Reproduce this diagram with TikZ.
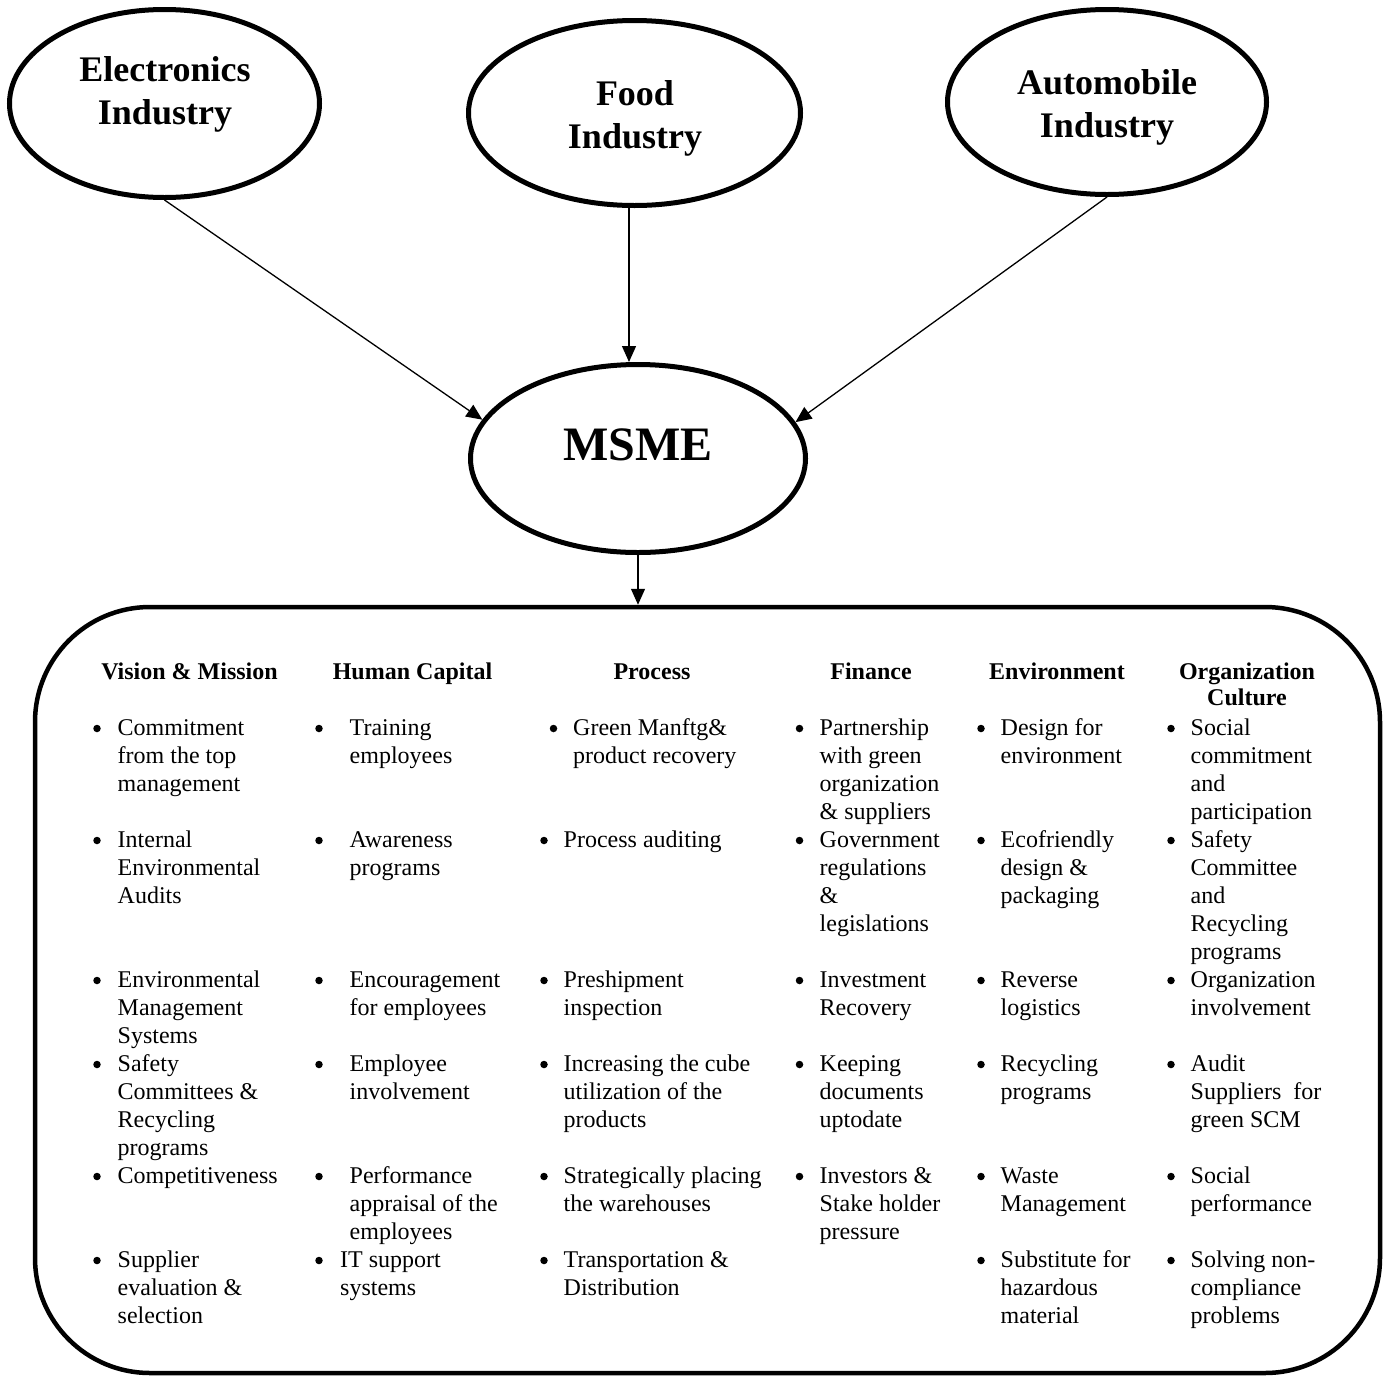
\documentclass[tikz,border=0pt]{standalone}
\usepackage{fontspec}
\setmainfont{Liberation Serif}
\usetikzlibrary{shapes.geometric,arrows.meta}
\tikzset{
  ell/.style={draw, ellipse, line width=5pt, inner sep=0pt},
  lbl/.style={font=\fontsize{36}{43}\selectfont\bfseries, align=center, inner sep=0pt, anchor=north},
  hdr/.style={font=\fontsize{24}{26}\selectfont\bfseries, align=center, inner sep=0pt, anchor=north},
  itm/.style={font=\fontsize{24}{28}\selectfont, align=left, inner sep=0pt, anchor=north west},
  bul/.style={circle, fill=black, inner sep=0pt, minimum size=7.5pt},
  conn/.style={line width=1.3pt, -{Triangle[length=16pt,width=14pt]}},
  frame/.style={draw, line width=4.5pt, rounded corners=115pt, inner sep=0pt}
}
\newcommand\bitem[5]{%
  \node[bul] (#1b) at (#2,#4-6.5) {};
  \node[itm] (#1) at (#3,#4-18) {\rule{0pt}{18pt}#5};
}
\begin{document}
\begin{tikzpicture}[x=1pt,y=-1pt]
\useasboundingbox (0,0) rectangle (1391,1376);

% ellipses
\node[ell, minimum width=310pt, minimum height=188pt] (elec) at (164.5,103.5) {};
\node[ell, minimum width=332pt, minimum height=185pt] (food) at (634.5,113) {};
\node[ell, minimum width=319pt, minimum height=185pt] (auto) at (1107,102) {};
\node[ell, minimum width=335pt, minimum height=188pt] (msme) at (638,458.5) {};

\node[lbl] (elecl) at (165,81-28) {\rule{0pt}{28pt}Electronics\\Industry};
\node[lbl] (foodl) at (635,105-28) {\rule{0pt}{28pt}Food\\Industry};
\node[lbl] (autol) at (1107,94-28) {\rule{0pt}{28pt}Automobile\\Industry};
\node[font=\fontsize{48}{56}\selectfont\bfseries, inner sep=0pt, anchor=base] (msmel) at (638,460) {MSME};

% frame
\node[frame, minimum width=1345pt, minimum height=766pt] (box) at (707.5,990) {};

% connectors
\draw[conn] (elec.south) -- (msme.166.5);
\draw[conn] (food.south -| 629,0) -- (msme.north -| 629,0);
\draw[conn] (auto.south) -- (msme.13.5);
\draw[conn] (msme.south) -- (msme.south |- box.north);

% headers
\node[hdr] (h1) at (189.5,679-18) {\rule{0pt}{18pt}Vision \& Mission};
\node[hdr] (h2) at (412.5,679-18) {\rule{0pt}{18pt}Human Capital};
\node[hdr] (h3) at (652,679-18) {\rule{0pt}{18pt}Process};
\node[hdr] (h4) at (871,679-18) {\rule{0pt}{18pt}Finance};
\node[hdr] (h5) at (1057,679-18) {\rule{0pt}{18pt}Environment};
\node[hdr] (h6) at (1247,679-18) {\rule{0pt}{18pt}Organization\\Culture};

% column 1
\bitem{a1}{97}{117.5}{735}{Commitment\\from the top\\management}
\bitem{a2}{97}{117.5}{847}{Internal\\Environmental\\Audits}
\bitem{a3}{97}{117.5}{987}{Environmental\\Management\\Systems}
\bitem{a4}{97}{117.5}{1071}{Safety\\Committees \&\\Recycling\\programs}
\bitem{a5}{97}{117.5}{1183}{Competitiveness}
\bitem{a6}{97}{117.5}{1267}{Supplier\\evaluation \&\\selection}

% column 2
\bitem{b1}{319}{349.5}{735}{Training\\employees}
\bitem{b2}{319}{349.5}{847}{Awareness\\programs}
\bitem{b3}{319}{349.5}{987}{Encouragement\\for employees}
\bitem{b4}{319}{349.5}{1071}{Employee\\involvement}
\bitem{b5}{319}{349.5}{1183}{Performance\\appraisal of the\\employees}
\bitem{b6}{319}{340}{1267}{IT support\\systems}

% column 3
\bitem{c1}{553.5}{573}{735}{Green Manftg\&\\product recovery}
\bitem{c2}{544}{563.5}{847}{Process auditing}
\bitem{c3}{544}{563.5}{987}{Preshipment\\inspection}
\bitem{c4}{544}{563.5}{1071}{Increasing the cube\\utilization of the\\products}
\bitem{c5}{544}{563.5}{1183}{Strategically placing\\the warehouses}
\bitem{c6}{544}{563.5}{1267}{Transportation \&\\Distribution}

% column 4
\bitem{d1}{799.5}{819.5}{735}{Partnership\\with green\\organization\\\& suppliers}
\bitem{d2}{799.5}{819.5}{847}{Government\\regulations\\\&\\legislations}
\bitem{d3}{799.5}{819.5}{987}{Investment\\Recovery}
\bitem{d4}{799.5}{819.5}{1071}{Keeping\\documents\\uptodate}
\bitem{d5}{799.5}{819.5}{1183}{Investors \&\\Stake holder\\pressure}

% column 5
\bitem{e1}{981}{1000.5}{735}{Design for\\environment}
\bitem{e2}{981}{1000.5}{847}{Ecofriendly\\design \&\\packaging}
\bitem{e3}{981}{1000.5}{987}{Reverse\\logistics}
\bitem{e4}{981}{1000.5}{1071}{Recycling\\programs}
\bitem{e5}{981}{1000.5}{1183}{Waste\\Management}
\bitem{e6}{981}{1000.5}{1267}{Substitute for\\hazardous\\material}

% column 6
\bitem{f1}{1171}{1190.5}{735}{Social\\commitment\\and\\participation}
\bitem{f2}{1171}{1190.5}{847}{Safety\\Committee\\and\\Recycling\\programs}
\bitem{f3}{1171}{1190.5}{987}{Organization\\involvement}
\bitem{f4}{1171}{1190.5}{1071}{Audit\\Suppliers~ for\\green SCM}
\bitem{f5}{1171}{1190.5}{1183}{Social\\performance}
\bitem{f6}{1171}{1190.5}{1267}{Solving non-\\compliance\\problems}
\end{tikzpicture}
\end{document}
